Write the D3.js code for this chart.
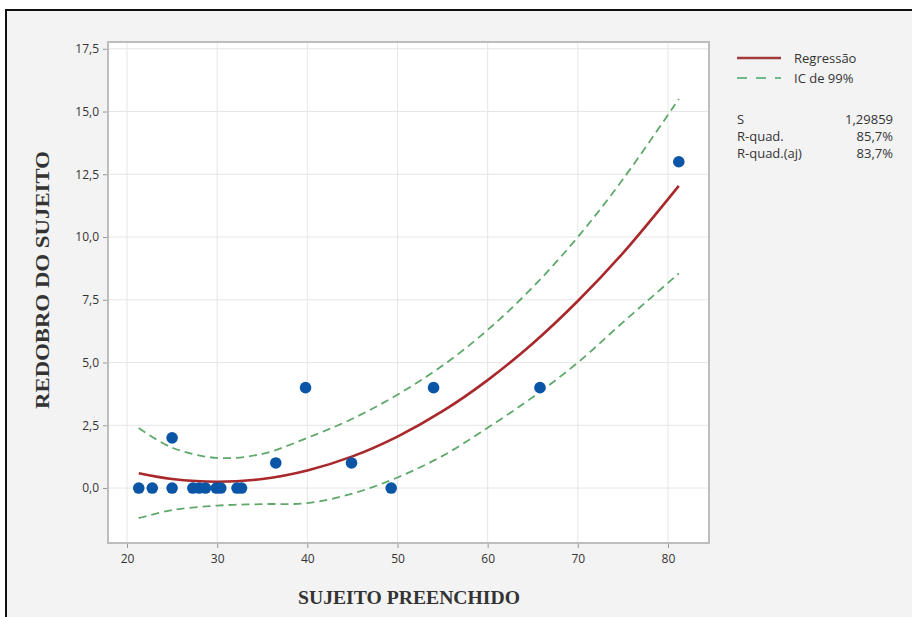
<!DOCTYPE html>
<html><head><meta charset="utf-8">
<script src="https://cdn.jsdelivr.net/npm/d3@7"></script>
<style>body{margin:0;background:#fff}svg{display:block}</style>
</head><body>
<svg id="c" width="912" height="617"></svg>
<script>
// Observed data points
const pointsX = [21.3,22.8,25.0,25.0,27.3,28.0,28.7,29.9,30.4,32.2,32.7,36.5,39.8,44.9,49.3,54.0,65.8,81.2];
const pointsY = [0,0,0,2,0,0,0,0,0,0,0,1,4,1,0,4,4,13];
// Fitted curve and 99% CI
const curveX = [21.3,25,30,35,40,45,50,55,60,65,70,75,81.2];
const fitY   = [0.59,0.36,0.25,0.36,0.70,1.26,2.05,3.06,4.30,5.76,7.45,9.36,12.04];
const ciHigh = [2.39,1.61,1.20,1.36,2.00,2.76,3.72,4.88,6.30,8.00,10.00,12.30,15.50];
const ciLow  = [-1.20,-0.88,-0.70,-0.64,-0.60,-0.22,0.42,1.28,2.40,3.62,5.00,6.60,8.55];
const xTicks = [20,30,40,50,60,70,80];
const yTicks = [0,2.5,5,7.5,10,12.5,15,17.5];
const legendItems = ["Regressão","IC de 99%"];
const statLabels = ["S","R-quad.","R-quad.(aj)"];
const statValues = ["1,29859","85,7%","83,7%"];

const svg = d3.select("#c");
// outer frame
svg.append("rect").attr("x",6).attr("y",10).attr("width",920).attr("height",620)
  .attr("fill","#f3f3f3").attr("stroke","#111").attr("stroke-width",2);

const L=108,R=709,T=42,B=543;
const x = d3.scaleLinear().domain([17.89,84.55]).range([L,R]);
const y = d3.scaleLinear().domain([-2.19,17.77]).range([B,T]);

svg.append("rect").attr("x",L).attr("y",T).attr("width",R-L).attr("height",B-T).attr("fill","#fff");

const g = svg.append("g");
// grid
g.selectAll(".gx").data(xTicks).join("line").attr("x1",d=>x(d)).attr("x2",d=>x(d))
  .attr("y1",T).attr("y2",B).attr("stroke","#e6e6e6").attr("stroke-width",1);
g.selectAll(".gy").data(yTicks).join("line").attr("y1",d=>y(d)).attr("y2",d=>y(d))
  .attr("x1",L).attr("x2",R).attr("stroke","#e6e6e6").attr("stroke-width",1);

// axes
const fmt = d=> d3.format(".1f")(d).replace(".",",");
const xa = svg.append("g").attr("transform",`translate(0,${B})`)
  .call(d3.axisBottom(x).tickValues(xTicks).tickSize(5).tickPadding(6));
const ya = svg.append("g").attr("transform",`translate(${L},0)`)
  .call(d3.axisLeft(y).tickValues(yTicks).tickFormat(fmt).tickSize(5).tickPadding(4));
[xa,ya].forEach(a=>{
  a.select(".domain").remove();
  a.selectAll("line").attr("stroke","#999");
  a.selectAll("text").attr("fill","#333").style("font-family","'Open Sans',sans-serif").style("font-size","12px");
});

// plot border
svg.append("rect").attr("x",L).attr("y",T).attr("width",R-L).attr("height",B-T)
  .attr("fill","none").attr("stroke","#bdbdbd").attr("stroke-width",2);

const clip = svg.append("clipPath").attr("id","pc").append("rect")
  .attr("x",L).attr("y",T).attr("width",R-L).attr("height",B-T);
const pg = svg.append("g").attr("clip-path","url(#pc)");

const line = (ys)=> d3.line().x((d,i)=>x(curveX[i])).y(d=>y(d)).curve(d3.curveCatmullRom)(ys);
pg.append("path").attr("d",line(ciHigh)).attr("fill","none").attr("stroke","#5ea86a")
  .attr("stroke-width",1.8).attr("stroke-dasharray","8,5");
pg.append("path").attr("d",line(ciLow)).attr("fill","none").attr("stroke","#5ea86a")
  .attr("stroke-width",1.8).attr("stroke-dasharray","8,5");
pg.append("path").attr("d",line(fitY)).attr("fill","none").attr("stroke","#a8282b")
  .attr("stroke-width",2.6);

pg.selectAll("circle").data(pointsX).join("circle")
  .attr("cx",d=>x(d)).attr("cy",(d,i)=>y(pointsY[i])).attr("r",5.8).attr("fill","#0b55a6");

// axis titles
svg.append("text").attr("x",409).attr("y",604).attr("text-anchor","middle")
  .style("font-family","'Liberation Serif',serif").style("font-weight","bold").style("font-size","19px")
  .attr("fill","#333").attr("textLength",222).attr("lengthAdjust","spacingAndGlyphs").text("SUJEITO PREENCHIDO");
svg.append("text").attr("transform","translate(49,280) rotate(-90)").attr("text-anchor","middle")
  .style("font-family","'Liberation Serif',serif").style("font-weight","bold").style("font-size","18px")
  .attr("fill","#333").attr("textLength",258).attr("lengthAdjust","spacingAndGlyphs").text("REDOBRO DO SUJEITO");

// legend
const lg = svg.append("g").style("font-family","'Open Sans',sans-serif").style("font-size","13px").attr("fill","#333");
lg.append("line").attr("x1",737).attr("x2",781).attr("y1",58).attr("y2",58).attr("stroke","#a33a3a").attr("stroke-width",2.5);
lg.append("line").attr("x1",737).attr("x2",781).attr("y1",78).attr("y2",78).attr("stroke","#6fb98a").attr("stroke-width",1.8).attr("stroke-dasharray","10,9");
lg.selectAll(".lt").data(legendItems).join("text").attr("x",794).attr("y",(d,i)=>63+i*20).text(d=>d);
lg.selectAll(".sl").data(statLabels).join("text").attr("x",737).attr("y",(d,i)=>124+i*17).text(d=>d);
lg.selectAll(".sv").data(statValues).join("text").attr("x",893).attr("y",(d,i)=>124+i*17).attr("text-anchor","end").text(d=>d);
</script>
</body></html>
